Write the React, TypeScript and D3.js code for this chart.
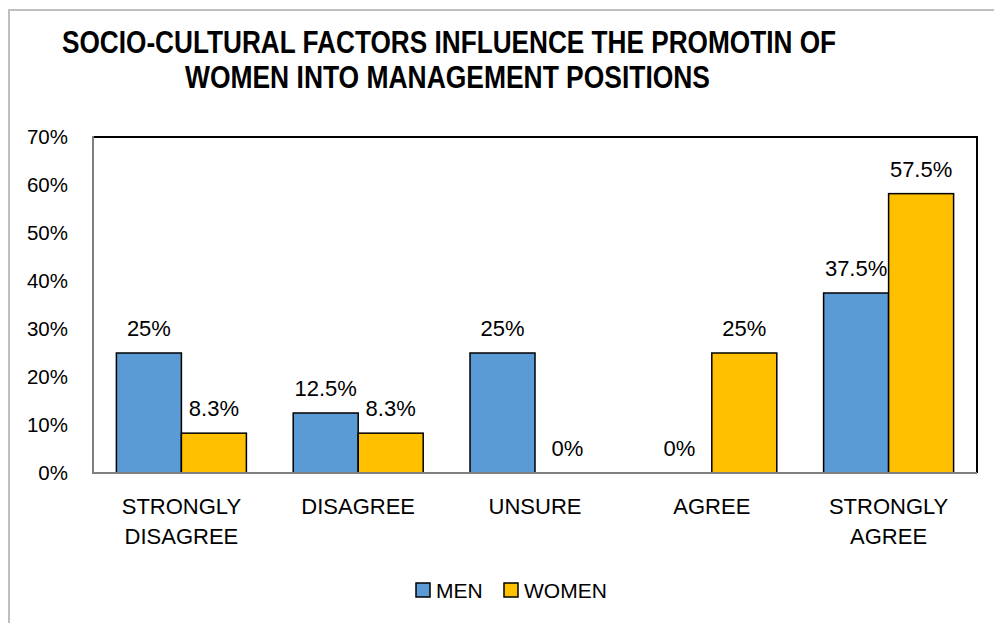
import React from 'react';
import * as d3 from 'd3';

const categories = ['STRONGLY DISAGREE', 'DISAGREE', 'UNSURE', 'AGREE', 'STRONGLY AGREE'];
const menValues = [25, 12.5, 25, 0, 37.5];
const womenValues = [8.3, 8.3, 0, 25, 58.2];
const menLabels = ['25%', '12.5%', '25%', '0%', '37.5%'];
const womenLabels = ['8.3%', '8.3%', '0%', '25%', '57.5%'];
const yTicks = [0, 10, 20, 30, 40, 50, 60, 70];
const series = ['MEN', 'WOMEN'];
const colors = ['#5B9BD5', '#FFC000'];
const titleLines = ['SOCIO-CULTURAL FACTORS INFLUENCE THE PROMOTIN OF', 'WOMEN INTO MANAGEMENT POSITIONS'];

const width = 994;
const height = 623;
const margin = { top: 137, right: 17, bottom: 150, left: 93 };
const font = 'Liberation Sans, Arial, sans-serif';

export default function App() {
  const x = d3
    .scaleBand<string>()
    .domain(categories)
    .range([margin.left, width - margin.right])
    .paddingInner(0)
    .paddingOuter(0);

  const inner = d3
    .scaleBand<string>()
    .domain(series)
    .range([0, x.bandwidth()])
    .paddingOuter(0.36)
    .paddingInner(0);

  const y = d3
    .scaleLinear()
    .domain([0, 70])
    .range([height - margin.bottom, margin.top]);

  const plotBottom = y(0);
  const plotTop = y(70);
  const plotLeft = margin.left;
  const plotRight = width - margin.right;

  const groups = [menValues, womenValues];
  const labels = [menLabels, womenLabels];

  return (
    <svg width={width} height={height} style={{ position: 'absolute', left: 0, top: 0, background: '#fff' }}>
      {/* outer chart frame */}
      <line x1={8} x2={width} y1={10} y2={10} stroke="#BFBFBF" strokeWidth={2} />
      <line x1={9} x2={9} y1={10} y2={height} stroke="#BFBFBF" strokeWidth={2} />

      {titleLines.map((t, i) => (
        <text
          key={t}
          x={i === 0 ? 62 : 185}
          y={i === 0 ? 53 : 88}
          fontFamily={font}
          fontWeight="bold"
          fontSize={31}
          textLength={i === 0 ? 774 : 525}
          lengthAdjust="spacingAndGlyphs"
          fill="#000"
        >
          {t}
        </text>
      ))}

      {/* plot area border */}
      <line x1={plotLeft} x2={plotRight + 1} y1={plotTop} y2={plotTop} stroke="#000" strokeWidth={2} />
      <line x1={plotRight} x2={plotRight} y1={plotTop} y2={plotBottom} stroke="#000" strokeWidth={2} />

      {/* bars */}
      {groups.map((vals, si) =>
        vals.map((v, ci) => {
          const bx = (x(categories[ci]) as number) + (inner(series[si]) as number);
          const bw = inner.bandwidth();
          return v > 0 ? (
            <rect
              key={`${si}-${ci}`}
              x={bx}
              y={y(v)}
              width={bw}
              height={plotBottom - y(v)}
              fill={colors[si]}
              stroke="#000"
              strokeWidth={1.5}
            />
          ) : null;
        })
      )}

      {/* axes lines */}
      <line x1={plotLeft} x2={plotLeft} y1={plotTop - 1} y2={plotBottom + 1} stroke="#808080" strokeWidth={2} />
      <line x1={plotLeft} x2={plotRight} y1={plotBottom} y2={plotBottom} stroke="#808080" strokeWidth={2} />

      {/* value labels */}
      {groups.map((vals, si) =>
        vals.map((v, ci) => {
          const cx = (x(categories[ci]) as number) + (inner(series[si]) as number) + inner.bandwidth() / 2;
          return (
            <text
              key={`l-${si}-${ci}`}
              x={cx}
              y={y(v) - 17}
              textAnchor="middle"
              fontFamily={font}
              fontSize={22}
              fill="#000"
            >
              {labels[si][ci]}
            </text>
          );
        })
      )}

      {/* y tick labels */}
      {yTicks.map((t) => (
        <text key={t} x={68} y={y(t) + 7} textAnchor="end" fontFamily={font} fontSize={20.5} fill="#000">
          {`${t}%`}
        </text>
      ))}

      {/* category labels */}
      {categories.map((c) => {
        const cx = (x(c) as number) + x.bandwidth() / 2;
        const words = c.split(' ');
        return (
          <text key={c} x={cx} y={514} textAnchor="middle" fontFamily={font} fontSize={22} fill="#000">
            {words.map((w, i) => (
              <tspan key={w} x={cx} dy={i === 0 ? 0 : 30}>
                {w}
              </tspan>
            ))}
          </text>
        );
      })}

      {/* legend */}
      {series.map((s, i) => {
        const lx = i === 0 ? 416 : 504;
        return (
          <g key={s}>
            <rect x={lx} y={583} width={14} height={14} fill={colors[i]} stroke="#000" strokeWidth={1.5} />
            <text x={lx + 20} y={598} fontFamily={font} fontSize={21} fill="#000">
              {s}
            </text>
          </g>
        );
      })}
    </svg>
  );
}
